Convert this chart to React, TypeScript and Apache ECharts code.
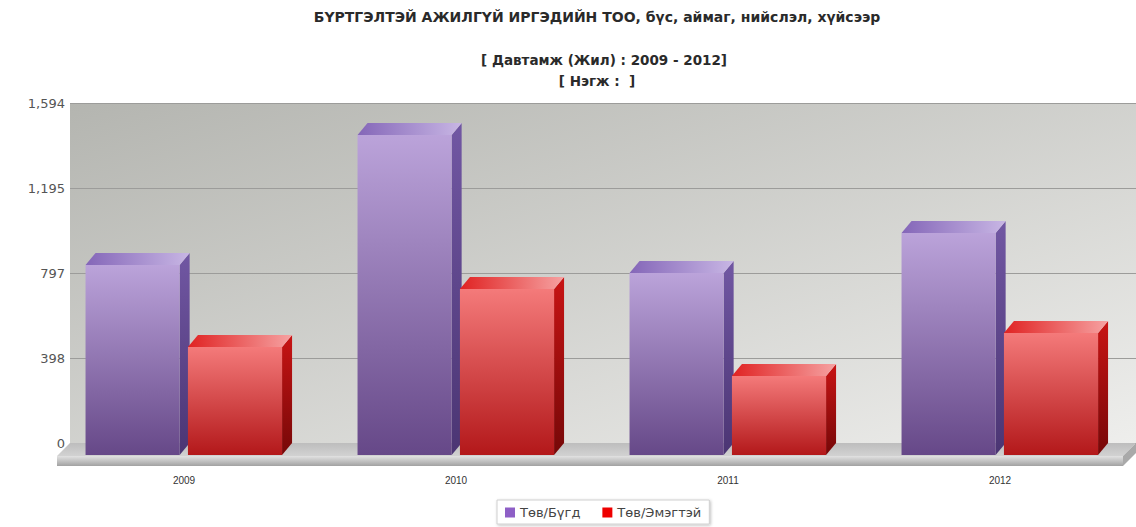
import React, { useEffect, useRef } from "react";
import * as echarts from "echarts";

const categories = ["2009", "2010", "2011", "2012"];
const totalValues = [891, 1500, 853, 1041];
const femaleValues = [506, 778, 370, 572];
const yTickLabels = ["0", "398", "797", "1,195", "1,594"];
const seriesNames = ["Төв/Бүгд", "Төв/Эмэгтэй"];
const titleLines = [
  "БҮРТГЭЛТЭЙ АЖИЛГҮЙ ИРГЭДИЙН ТОО, бүс, аймаг, нийслэл, хүйсээр",
  "[ Давтамж (Жил) : 2009 - 2012]",
  "[ Нэгж :  ]",
];

const Y_MAX = 1594;
const Y_STEP = 398.5;
const DX = 10;
const DY = 12;
const BAR_FRAC = 0.346;
const OFFSETS = [-0.189, 0.1875];

const LG = (x0: number, y0: number, x1: number, y1: number, c0: string, c1: string) =>
  new echarts.graphic.LinearGradient(x0, y0, x1, y1, [
    { offset: 0, color: c0 },
    { offset: 1, color: c1 },
  ]);

const palettes = [
  {
    front: ["#bba3da", "#664888"],
    top: ["#8466b8", "#c8b6e4"],
    side: ["#7157a3", "#4b3573"],
  },
  {
    front: ["#f47a7a", "#b3181a"],
    top: ["#e02222", "#f6a2a2"],
    side: ["#c81414", "#760808"],
  },
];

function makeRender(si: number) {
  return (params: any, api: any) => {
    const idx = api.value(0);
    const val = api.value(1);
    const top = api.coord([idx, val]);
    const base = api.coord([idx, 0]);
    const band = api.size([1, 0])[0];
    const w = band * BAR_FRAC;
    const left = top[0] + band * OFFSETS[si] - w / 2;
    const yt = top[1];
    const yb = base[1];
    const p = palettes[si];
    return {
      type: "group",
      children: [
        {
          type: "polygon",
          shape: {
            points: [
              [left + w, yt],
              [left + w + DX, yt - DY],
              [left + w + DX, yb - DY],
              [left + w, yb],
            ],
          },
          style: { fill: LG(0, 0, 0, 1, p.side[0], p.side[1]) },
        },
        {
          type: "polygon",
          shape: {
            points: [
              [left, yt],
              [left + w, yt],
              [left + w + DX, yt - DY],
              [left + DX, yt - DY],
            ],
          },
          style: { fill: LG(0, 0, 1, 0, p.top[0], p.top[1]) },
        },
        {
          type: "rect",
          shape: { x: left, y: yt, width: w, height: yb - yt },
          style: { fill: LG(0, 0, 0, 1, p.front[0], p.front[1]) },
        },
      ],
    };
  };
}

export default function App() {
  const ref = useRef<HTMLDivElement>(null);
  useEffect(() => {
    if (!ref.current) return;
    const chart = echarts.init(ref.current, null, { renderer: "svg" });
    const font = "'DejaVu Sans', Verdana, sans-serif";
    const font2 = "'Liberation Sans', Arial, sans-serif";
    chart.setOption({
      animation: false,
      backgroundColor: "#ffffff",
      textStyle: { fontFamily: font },
      title: titleLines.map((t, i) => ({
        text: t,
        left: [597, 604, 597][i],
        textAlign: "center",
        top: [10, 53, 74][i],
        padding: 0,
        textStyle: { fontSize: i === 0 ? 14 : 13.5, fontWeight: "bold", color: "#2a2a2a", fontFamily: font },
      })),
      legend: {
        left: 497,
        top: 500,
        icon: "rect",
        itemWidth: 10,
        itemHeight: 10,
        itemGap: 22,
        padding: [6, 8, 5, 8],
        backgroundColor: "#ffffff",
        borderColor: "#d0d0d0",
        borderWidth: 1,
        shadowBlur: 3,
        shadowColor: "rgba(0,0,0,0.25)",
        shadowOffsetX: 1,
        shadowOffsetY: 1,
        textStyle: { fontSize: 13, color: "#444", fontFamily: font },
        data: seriesNames,
      },
      grid: [
        {
          left: 70,
          right: 0,
          top: 103,
          bottom: 527 - 443,
          show: true,
          borderWidth: 0,
          backgroundColor: LG(0, 0, 1, 1, "#b4b5b0", "#eeeeec"),
        },
        { left: 48, right: 0, top: 103 + DY, bottom: 527 - 443 - DY },
      ],
      xAxis: [
        { type: "category", gridIndex: 0, data: categories, show: false },
        {
          type: "category",
          gridIndex: 1,
          data: categories,
          axisLine: { show: false },
          axisTick: { show: false },
          axisLabel: { fontSize: 10, color: "#333", margin: 20, fontFamily: font2 },
        },
      ],
      yAxis: [
        {
          type: "value",
          gridIndex: 0,
          min: 0,
          max: Y_MAX,
          interval: Y_STEP,
          axisLine: { show: false },
          axisTick: { show: false },
          axisLabel: {
            fontSize: 13,
            color: "#555",
            margin: 5,
            fontFamily: font,
            formatter: (v: number) => yTickLabels[Math.round(v / Y_STEP)],
          },
          splitLine: { show: true, lineStyle: { color: "#9c9c9a", width: 1 } },
        },
        { type: "value", gridIndex: 1, min: 0, max: Y_MAX, interval: Y_STEP, show: false, splitLine: { show: false } },
      ],
      graphic: [
        {
          type: "polygon",
          shape: { points: [[70, 443], [1136, 443], [1123, 456], [57, 456]] },
          style: { fill: LG(0, 0, 0, 1, "#bdbdbd", "#d2d2d2") },
          z: 1,
        },
        {
          type: "rect",
          shape: { x: 57, y: 456, width: 1066, height: 10 },
          style: { fill: LG(0, 0, 0, 1, "#e2e2e2", "#a2a2a2") },
          z: 1,
        },
        {
          type: "polygon",
          shape: { points: [[1123, 456], [1136, 443], [1136, 453], [1123, 466]] },
          style: { fill: "#a9a9a9" },
          z: 1,
        },
      ],
      series: [
        {
          name: seriesNames[0],
          type: "custom",
          xAxisIndex: 1,
          yAxisIndex: 1,
          itemStyle: { color: "#8e5fc6" },
          renderItem: makeRender(0),
          data: totalValues.map((v, i) => [i, v]),
          z: 5,
        },
        {
          name: seriesNames[1],
          type: "custom",
          xAxisIndex: 1,
          yAxisIndex: 1,
          itemStyle: { color: "#ee0000" },
          renderItem: makeRender(1),
          data: femaleValues.map((v, i) => [i, v]),
          z: 6,
        },
      ],
    });
    return () => chart.dispose();
  }, []);
  return <div ref={ref} style={{ position: "absolute", left: 0, top: 0, width: 1136, height: 527 }} />;
}
